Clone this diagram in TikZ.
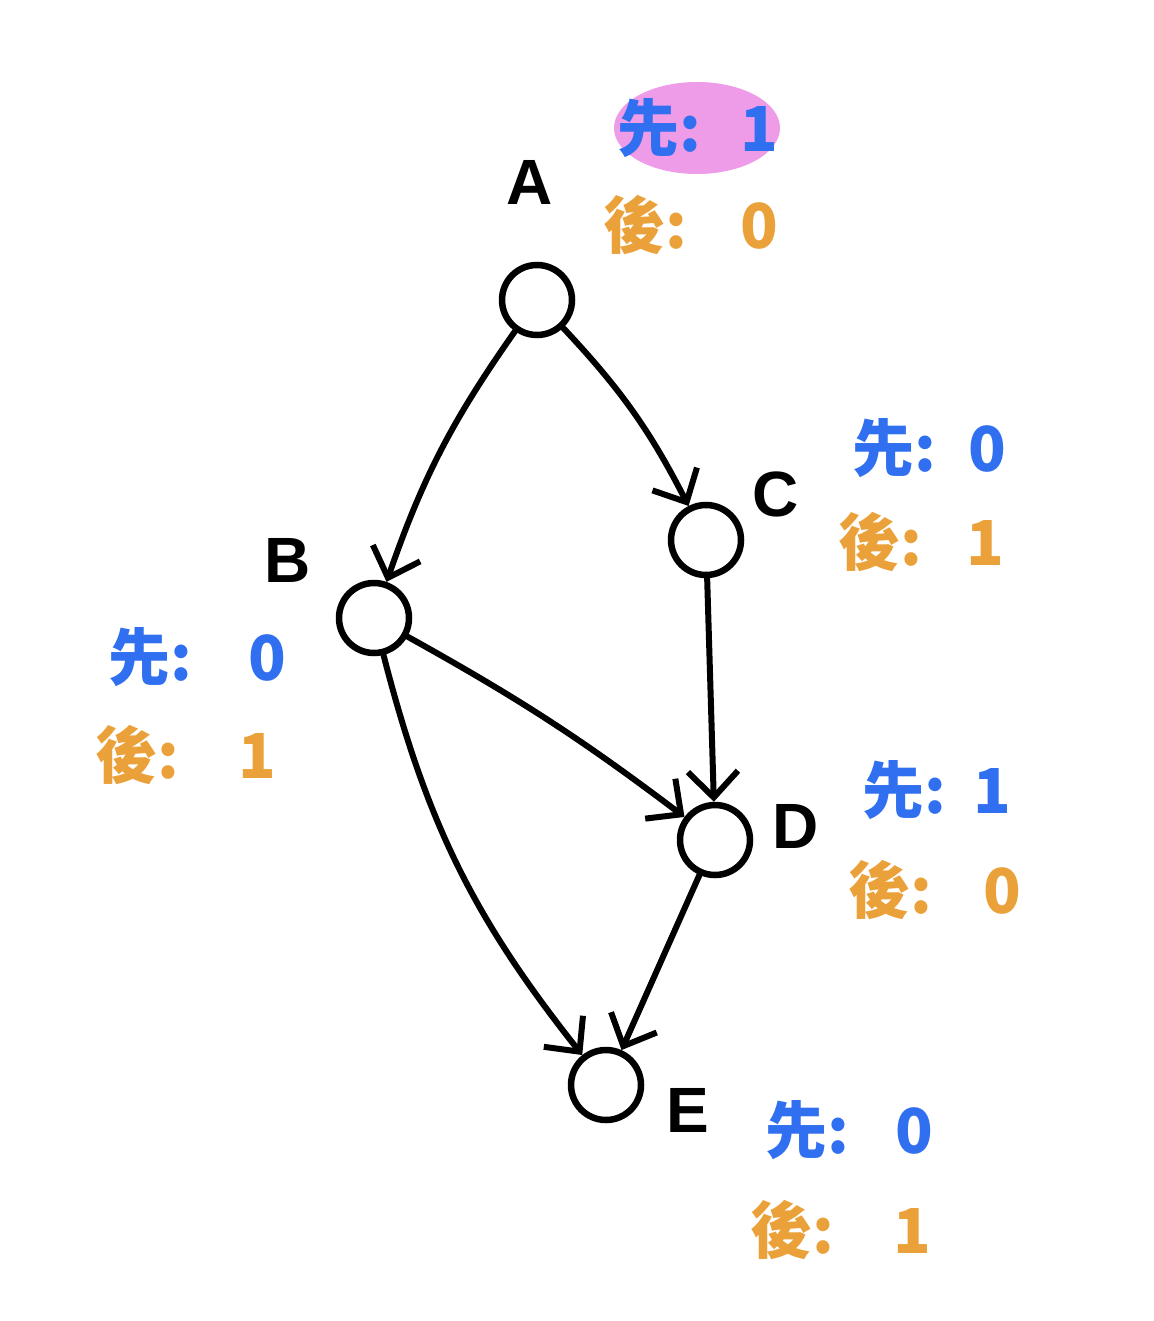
\documentclass[tikz,border=0pt]{standalone}
\usepackage{fontspec}
\setmainfont{Liberation Sans}
\newfontfamily\cjk{Noto Sans CJK TC}
\usetikzlibrary{arrows.meta}

\definecolor{firstblue}{HTML}{2F6FF0}
\definecolor{lastorange}{HTML}{EBA13A}
\definecolor{hilitepink}{HTML}{EE9BE8}

\begin{document}
\begin{tikzpicture}[
    x=1pt, y=-1pt,
    vertex/.style={draw, circle, line width=6.5pt, minimum size=70pt, inner sep=0pt},
    tag/.style={font=\fontsize{64}{64}\selectfont\bfseries},
    first/.style={anchor=west, inner sep=0pt, text=firstblue, font=\fontsize{62}{62}\selectfont\cjk\bfseries},
    last/.style={anchor=west, inner sep=0pt, text=lastorange, font=\fontsize{62}{62}\selectfont\cjk\bfseries},
    arr/.style={-{Straight Barb[length=26pt, width=50pt, line width=6pt]}, line width=6pt, line cap=round}
]
\useasboundingbox (0,0) rectangle (1153,1321);

% vertices
\node[vertex] (a) at (537,300) {};
\node[vertex] (b) at (374,618) {};
\node[vertex] (c) at (706,540) {};
\node[vertex] (d) at (715,840) {};
\node[vertex] (e) at (606,1085) {};

% vertex names
\node[tag] (aName) at (530,182) {A};
\node[tag] (bName) at (288,560) {B};
\node[tag] (cName) at (776,494) {C};
\node[tag] (dName) at (796,826) {D};
\node[tag] (eName) at (688,1110) {E};

% highlight behind A's first value
\fill[hilitepink] (697,128) ellipse [x radius=83, y radius=46];

% first / last values
\node[first] (aFirst) at (617,128) {先:\hspace{40pt}1};
\node[last]  (aLast)  at (603,225) {後:\hspace{54pt}0};
\node[first] (cFirst) at (852,448) {先:\hspace{33pt}0};
\node[last]  (cLast)  at (838,542) {後:\hspace{45pt}1};
\node[first] (bFirst) at (108,657) {先:\hspace{57pt}0};
\node[last]  (bLast)  at (95,755)  {後:\hspace{60pt}1};
\node[first] (dFirst) at (862,790) {先:\hspace{28pt}1};
\node[last]  (dLast)  at (848,890) {後:\hspace{52pt}0};
\node[first] (eFirst) at (765,1130) {先:\hspace{47pt}0};
\node[last]  (eLast)  at (750,1230) {後:\hspace{60pt}1};

% edges
\draw[arr] (a) to[bend right=8] (b);
\draw[arr] (a) to[bend left=8] (c);
\draw[arr] (b) to[bend left=4] (d);
\draw[arr] (c) -- (d);
\draw[arr] (b) to[bend right=12] (e);
\draw[arr] (d) -- (e);
\end{tikzpicture}
\end{document}
